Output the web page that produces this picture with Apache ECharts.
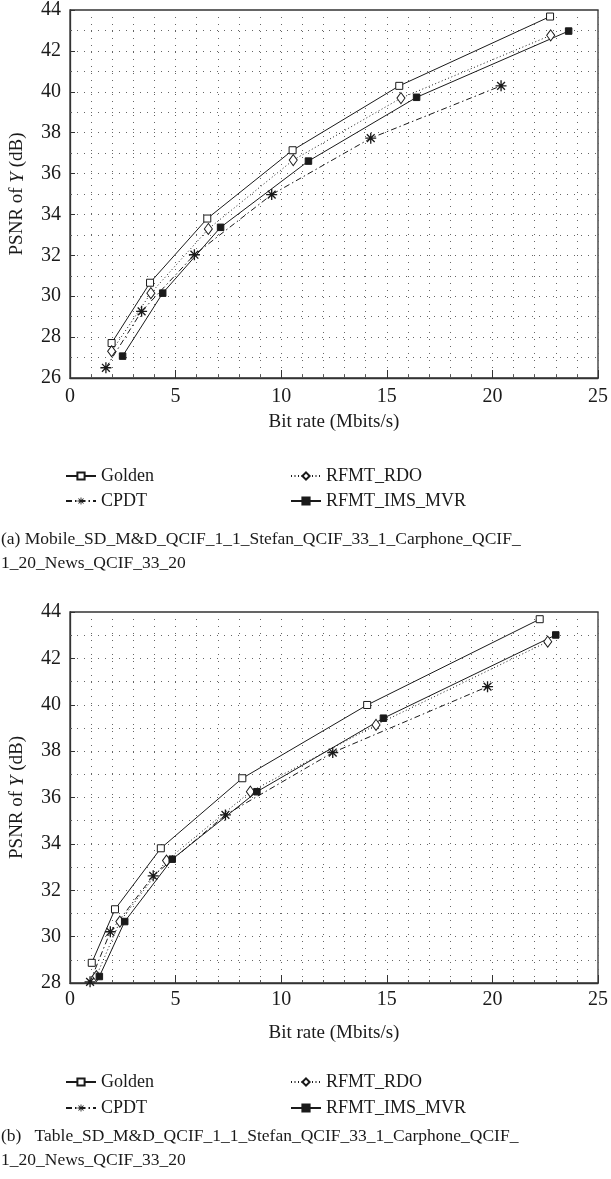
<!DOCTYPE html>
<html>
<head>
<meta charset="utf-8">
<script src="https://cdn.jsdelivr.net/npm/echarts@6/dist/echarts.min.js"></script>
<style>
  html, body { margin: 0; padding: 0; background: #fff; }
  #chart { width: 611px; height: 1179px; }
</style>
</head>
<body>
<div id="chart"></div>
<script>
// Rate–distortion curves: bit rate (Mbits/s) vs. PSNR of Y (dB)
const seriesNames = ['Golden', 'CPDT', 'RFMT_RDO', 'RFMT_IMS_MVR'];

// (a) Mobile_SD mix
const rateGoldenA = [1.97, 3.79, 6.50, 10.54, 15.59, 22.73];
const psnrGoldenA = [27.71, 30.66, 33.80, 37.14, 40.29, 43.68];
const rateCpdtA = [1.70, 3.39, 5.89, 9.55, 14.24, 20.41];
const psnrCpdtA = [26.50, 29.26, 32.03, 34.97, 37.73, 40.29];
const rateRdoA = [1.97, 3.83, 6.55, 10.57, 15.67, 22.76];
const psnrRdoA = [27.31, 30.15, 33.29, 36.66, 39.69, 42.76];
const rateMvrA = [2.49, 4.39, 7.13, 11.29, 16.41, 23.61];
const psnrMvrA = [27.07, 30.15, 33.37, 36.61, 39.73, 42.97];

// (b) Table_SD mix
const rateGoldenB = [1.03, 2.13, 4.30, 8.16, 14.07, 22.24];
const psnrGoldenB = [28.87, 31.18, 33.81, 36.83, 39.99, 43.69];
const rateCpdtB = [0.95, 1.91, 3.94, 7.36, 12.44, 19.77];
const psnrCpdtB = [28.05, 30.21, 32.62, 35.25, 37.94, 40.78];
const rateRdoB = [1.25, 2.36, 4.57, 8.54, 14.49, 22.62];
const psnrRdoB = [28.30, 30.65, 33.28, 36.25, 39.13, 42.72];
const rateMvrB = [1.39, 2.59, 4.84, 8.85, 14.84, 23.00];
const psnrMvrB = [28.28, 30.65, 33.34, 36.25, 39.42, 43.01];

const captionA = ['(a) Mobile_SD_M&D_QCIF_1_1_Stefan_QCIF_33_1_Carphone_QCIF_', '1_20_News_QCIF_33_20'];
const captionB = ['(b)   Table_SD_M&D_QCIF_1_1_Stefan_QCIF_33_1_Carphone_QCIF_', '1_20_News_QCIF_33_20'];

const FONT = "'Liberation Serif', 'Times New Roman', serif";
const INK = '#1a1a1a';

// asterisk marker: plus and cross bars
const ASTERISK = 'path://M8.8 0L11.2 0L11.2 20L8.8 20Z M0 8.8L20 8.8L20 11.2L0 11.2Z ' +
  'M3.75 2.05L17.95 16.25L16.25 17.95L2.05 3.75Z M16.25 2.05L17.95 3.75L3.75 17.95L2.05 16.25Z';

const styles = {
  'Golden':       { symbol: 'rect', symbolSize: 7, fill: '#fff', line: 'solid' },
  'CPDT':         { symbol: ASTERISK, symbolSize: 11, fill: INK, line: [6, 3, 1.5, 3] },
  'RFMT_RDO':     { symbol: 'diamond', symbolSize: [8, 11], fill: '#fff', line: [1, 2.5] },
  'RFMT_IMS_MVR': { symbol: 'rect', symbolSize: 6.5, fill: INK, line: 'solid' }
};

function zip(xs, ys) { return xs.map((x, i) => [x, ys[i]]); }

function makeSeries(name, idx, xs, ys) {
  const s = styles[name];
  return {
    name: name, type: 'line', xAxisIndex: idx, yAxisIndex: idx,
    data: zip(xs, ys), clip: false,
    symbol: s.symbol, symbolSize: s.symbolSize, showSymbol: true,
    lineStyle: { color: INK, width: 1, type: s.line },
    itemStyle: { color: s.fill, borderColor: INK, borderWidth: s.symbol === ASTERISK ? 0 : 1 },
    emphasis: { disabled: true }, animation: false, z: 3
  };
}

const dotted = { color: '#666', width: 1, type: [1, 6] };

function xAxisFor(idx, nameGap, labelMargin) {
  return {
    type: 'value', gridIndex: idx, min: 0, max: 25, interval: 5,
    name: 'Bit rate (Mbits/s)', nameLocation: 'middle', nameGap: nameGap,
    nameTextStyle: { fontFamily: FONT, fontSize: 19, color: INK },
    axisLine: { show: true, lineStyle: { color: '#333', width: 1.3 } },
    axisTick: { show: true, inside: true, length: 8, lineStyle: { color: '#333' } },
    minorTick: { show: true, splitNumber: 5, length: 3, lineStyle: { color: '#555' } },
    axisLabel: { fontFamily: FONT, fontSize: 20, color: INK, margin: labelMargin },
    splitLine: { show: true, lineStyle: dotted },
    minorSplitLine: { show: true, lineStyle: dotted }
  };
}

function yAxisFor(idx, min) {
  return {
    type: 'value', gridIndex: idx, min: min, max: 44, interval: 2,
    name: '{a|PSNR of }{i|Y}{a| (dB)}', nameLocation: 'middle', nameGap: 43,
    nameTextStyle: {
      fontFamily: FONT, fontSize: 19, color: INK,
      rich: {
        a: { fontFamily: FONT, fontSize: 19, color: INK },
        i: { fontFamily: FONT, fontSize: 19, color: INK, fontStyle: 'italic' }
      }
    },
    axisLine: { show: true, lineStyle: { color: '#333', width: 1.3 } },
    axisTick: { show: true, inside: true, length: 5, lineStyle: { color: '#333' } },
    minorTick: { show: true, splitNumber: 2, length: 2, lineStyle: { color: '#555' } },
    axisLabel: { fontFamily: FONT, fontSize: 20, color: INK, margin: 9 },
    splitLine: { show: true, lineStyle: dotted },
    minorSplitLine: { show: true, lineStyle: dotted }
  };
}

// legend slots: [name, left, centre y]
function legendsAt(row1, row2) {
  const slots = [
    ['Golden', 60, row1], ['RFMT_RDO', 285, row1],
    ['CPDT', 60, row2], ['RFMT_IMS_MVR', 285, row2]
  ];
  return slots.map(([name, left, cy]) => ({
    data: [name], left: left, top: cy - 12, orient: 'horizontal',
    itemWidth: 30, itemHeight: 9, itemGap: 10, selectedMode: false,
    textStyle: { fontFamily: FONT, fontSize: 18, color: INK }
  }));
}

function captionText(lines, top) {
  return lines.map((t, i) => ({
    type: 'text', left: 1, top: top + i * 24,
    style: { text: t, font: "17.5px 'Liberation Serif', 'Times New Roman', serif", fill: INK }
  }));
}

const chart = echarts.init(document.getElementById('chart'), null, { renderer: 'canvas' });

chart.setOption({
  backgroundColor: '#fff',
  animation: false,
  grid: [
    { left: 70, top: 6, width: 528, height: 372, show: true, borderColor: '#333', borderWidth: 1.3, containLabel: false },
    { left: 70, top: 612, width: 529, height: 371, show: true, borderColor: '#333', borderWidth: 1.3, containLabel: false }
  ],
  xAxis: [xAxisFor(0, 35, 9), xAxisFor(1, 41, 7)],
  yAxis: [yAxisFor(0, 26), yAxisFor(1, 28)],
  legend: legendsAt(474, 499).concat(legendsAt(1080, 1106)),
  series: [
    makeSeries('Golden', 0, rateGoldenA, psnrGoldenA),
    makeSeries('CPDT', 0, rateCpdtA, psnrCpdtA),
    makeSeries('RFMT_RDO', 0, rateRdoA, psnrRdoA),
    makeSeries('RFMT_IMS_MVR', 0, rateMvrA, psnrMvrA),
    makeSeries('Golden', 1, rateGoldenB, psnrGoldenB),
    makeSeries('CPDT', 1, rateCpdtB, psnrCpdtB),
    makeSeries('RFMT_RDO', 1, rateRdoB, psnrRdoB),
    makeSeries('RFMT_IMS_MVR', 1, rateMvrB, psnrMvrB)
  ],
  graphic: captionText(captionA, 530).concat(captionText(captionB, 1127))
});
</script>
</body>
</html>
